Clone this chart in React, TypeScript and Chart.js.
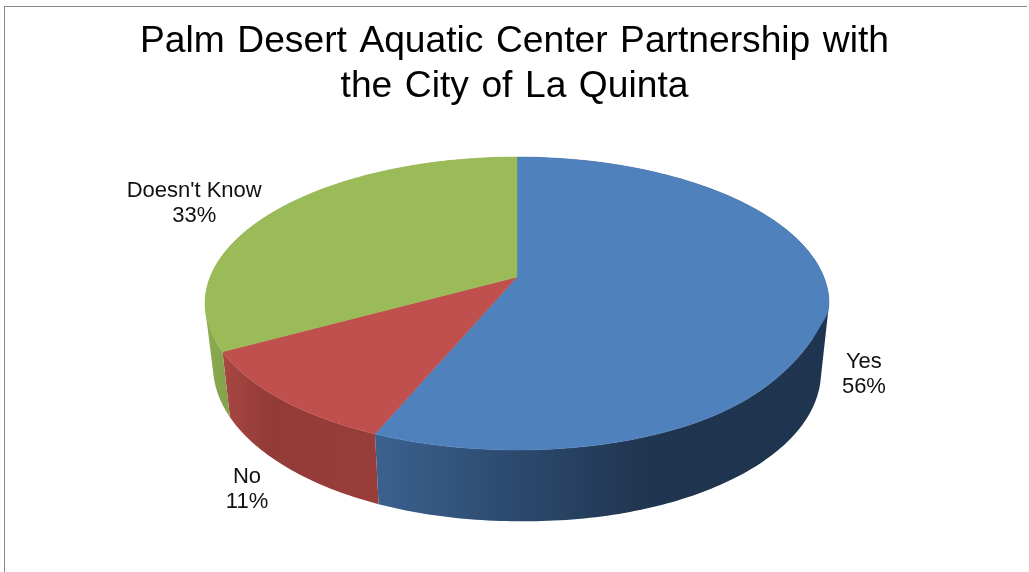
import React, { useEffect, useRef } from "react";
import { Chart, registerables } from "chart.js";

Chart.register(...registerables);

const categories = ["Yes", "No", "Doesn't Know"];
const shares = [56.3, 10.7, 33];
const faceColors = ["#4F81BD", "#C0504D", "#9BBB59"];
const titleLines = ["Palm Desert Aquatic Center Partnership with", "the City of La Quinta"];

// wall shading: [stop, colour] along each slice's horizontal extent
const wallStops: [number, string][][] = [
  [[0, "#3B618F"], [0.25, "#2F4E74"], [0.6, "#20354F"], [1, "#1E3450"]],
  [[0, "#A94744"], [0.3, "#933B38"], [1, "#983D3A"]],
  [[0, "#8BAA50"], [1, "#84A24C"]],
];
// label anchor offset from the slice's rim point
const labelOffsets = [[35, 69], [-33, 89], [-81, -9]];

const P = 0.181;
const top = { cx: 517, cy: 277, a: 306.8, b: 141.7 };
const bot = { cx: 517, cy: 338, a: 299, b: 150 };
const deg = Math.PI / 180;
const project = (pl: typeof top, theta: number) => {
  const u = Math.sin(theta);
  const v = -Math.cos(theta);
  const s = 1 / (1 - P * v);
  let y = pl.cy + pl.b * v * s;
  if (pl === top) {
    // the source's rim is flatter on the lower right shoulder
    const d = (theta - 115 * deg) / ((theta < 115 * deg ? 10 : 22) * deg);
    y -= 12 * Math.exp(-d * d);
  } else if (u > 0) {
    y += 6 * u;
  }
  return [pl.cx + pl.a * u * s, y];
};

const pie3d = {
  id: "pie3d",
  beforeDraw(chart: any) {
    const { ctx } = chart;
    ctx.save();
    ctx.fillStyle = "#fff";
    ctx.fillRect(0, 0, 1029, 572);
    ctx.fillStyle = "#8a8a8a";
    ctx.fillRect(4, 6, 1, 566);
    ctx.fillRect(4, 6, 1023, 1);
    ctx.restore();
    ctx.wordSpacing = "2.2px";
  },
  beforeDatasetsDraw(chart: any) {
    const { ctx } = chart;
    const arcs = chart.getDatasetMeta(0).data;
    const spans = arcs.map((el: any) => {
      const p = el.getProps(["startAngle", "endAngle"], true);
      return [p.startAngle + Math.PI / 2, p.endAngle + Math.PI / 2];
    });
    const steps = (a: number, b: number) => {
      const n = Math.max(8, Math.ceil((b - a) * 60));
      return Array.from({ length: n + 1 }, (_, i) => a + ((b - a) * i) / n);
    };
    ctx.save();
    // walls: one path of same-wound quads, so the silhouette is the hull of both rims
    spans.forEach(([a, b]: number[], i: number) => {
      const ts = steps(a, b);
      const xs = ts
        .filter((t) => -Math.cos(t) > -0.05)
        .flatMap((t) => [project(top, t)[0], project(bot, t)[0]]);
      const g = ctx.createLinearGradient(Math.min(...xs), 0, Math.max(...xs), 0);
      wallStops[i].forEach(([o, c]) => g.addColorStop(o, c));
      ctx.fillStyle = g;
      ctx.beginPath();
      for (let k = 0; k < ts.length - 1; k++) {
        const q = [project(top, ts[k]), project(top, ts[k + 1]), project(bot, ts[k + 1]), project(bot, ts[k])];
        let area = 0;
        q.forEach(([x, y], m) => {
          const [nx, ny] = q[(m + 1) % 4];
          area += x * ny - nx * y;
        });
        if (area < 0) q.reverse();
        q.forEach(([x, y], m) => (m ? ctx.lineTo(x, y) : ctx.moveTo(x, y)));
        ctx.closePath();
      }
      ctx.fill();
    });
    // top faces
    spans.forEach(([a, b]: number[], i: number) => {
      ctx.fillStyle = faceColors[i];
      ctx.strokeStyle = faceColors[i];
      ctx.lineWidth = 0.5;
      ctx.beginPath();
      ctx.moveTo(top.cx, top.cy);
      steps(a, b).forEach((t) => {
        const [x, y] = project(top, t);
        ctx.lineTo(x, y);
      });
      ctx.closePath();
      ctx.fill();
      ctx.stroke();
    });
    // labels
    ctx.fillStyle = "#111";
    ctx.font = "22px 'Liberation Sans'";
    ctx.textAlign = "center";
    ctx.textBaseline = "alphabetic";
    ctx.wordSpacing = "0px";
    spans.forEach(([a, b]: number[], i: number) => {
      const [x, y] = project(top, (a + b) / 2);
      const [dx, dy] = labelOffsets[i];
      const total = shares.reduce((m, n) => m + n, 0);
      ctx.fillText(categories[i], x + dx, y + dy - 5);
      ctx.fillText(`${Math.round((shares[i] / total) * 100)}%`, x + dx, y + dy + 20);
    });
    ctx.restore();
    return false;
  },
};

export default function App() {
  const ref = useRef<HTMLCanvasElement>(null);
  useEffect(() => {
    const chart = new Chart(ref.current!, {
      type: "pie",
      data: {
        labels: categories,
        datasets: [{ data: shares, backgroundColor: faceColors, borderWidth: 0 }],
      },
      options: {
        animation: false,
        responsive: false,
        layout: { padding: { top: 20 } },
        plugins: {
          legend: { display: false },
          tooltip: { enabled: false },
          title: {
            display: true,
            text: titleLines,
            color: "#000",
            font: { family: "'Liberation Sans'", size: 37.2, weight: "normal", lineHeight: 1.19 },
            padding: 0,
          },
        },
      },
      plugins: [pie3d],
    } as any);
    return () => chart.destroy();
  }, []);
  return (
    <div style={{ position: "fixed", left: 0, top: 0, width: 1029, height: 572, background: "#fff" }}>
      <canvas ref={ref} width={1029} height={572} style={{ display: "block" }} />
    </div>
  );
}
